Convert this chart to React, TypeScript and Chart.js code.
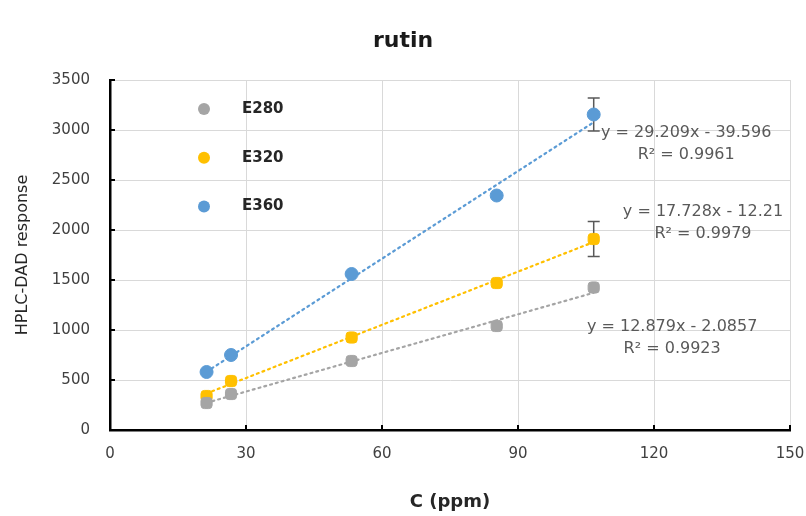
import React, { useEffect, useRef } from "react";
import { Chart, registerables } from "chart.js";

Chart.register(...registerables);

// ---- data ----
const concentrations = [21.3, 26.7, 53.3, 85.3, 106.7];
const seriesLabels = ["E280", "E320", "E360"];
const e280 = [270, 360, 690, 1040, 1425];
const e320 = [340, 490, 925, 1470, 1910];
const e360 = [580, 750, 1560, 2345, 3155];
const e280Err = [0, 0, 0, 0, 0];
const e320Err = [0, 0, 0, 0, 175];
const e360Err = [0, 0, 0, 0, 165];
const trendSlopes = [12.879, 17.728, 29.209];
const trendIntercepts = [-2.0857, -12.21, -39.596];
const equationTexts = ["y = 12.879x - 2.0857", "y = 17.728x - 12.21", "y = 29.209x - 39.596"];
const r2Texts = ["R² = 0.9923", "R² = 0.9979", "R² = 0.9961"];
const xTickValues = [0, 30, 60, 90, 120, 150];
const yTickValues = [0, 500, 1000, 1500, 2000, 2500, 3000, 3500];

// ---- styles ----
const colors = ["#A5A5A5", "#FFC000", "#5B9BD5"];
const pointStyles = ["rectRounded", "rectRounded", "circle"];
const FONT = "'DejaVu Sans', sans-serif";
const TICK_COLOR = "#404040";
// label anchors (data units) for the trendline equations
const eqAnchors = [
  { x: 124, y: 1035 },
  { x: 130.8, y: 2180 },
  { x: 127.1, y: 2970 },
];

const allValues = [e280, e320, e360];
const allErrors = [e280Err, e320Err, e360Err];

const errorBarPlugin = {
  id: "errorBars",
  beforeDatasetsDraw(chart: any) {
    const { ctx, scales } = chart;
    const xs = scales.x;
    const ys = scales.y;
    ctx.save();
    ctx.strokeStyle = "#595959";
    ctx.lineWidth = 1.5;
    allValues.forEach((vals, s) => {
      vals.forEach((v, i) => {
        const e = allErrors[s][i];
        if (!e) return;
        const px = xs.getPixelForValue(concentrations[i]);
        const top = ys.getPixelForValue(v + e);
        const bot = ys.getPixelForValue(v - e);
        ctx.beginPath();
        ctx.moveTo(px, top);
        ctx.lineTo(px, bot);
        ctx.moveTo(px - 6, top);
        ctx.lineTo(px + 6, top);
        ctx.moveTo(px - 6, bot);
        ctx.lineTo(px + 6, bot);
        ctx.stroke();
      });
    });
    ctx.restore();
  },
};

const annotationPlugin = {
  id: "annotations",
  afterDatasetsDraw(chart: any) {
    const { ctx, scales, chartArea } = chart;
    const xs = scales.x;
    const ys = scales.y;
    ctx.save();
    // inner tick marks on the axes
    ctx.strokeStyle = "#000";
    ctx.lineWidth = 2;
    ctx.beginPath();
    xTickValues.forEach((v) => {
      const px = xs.getPixelForValue(v);
      ctx.moveTo(px, chartArea.bottom);
      ctx.lineTo(px, chartArea.bottom - 5);
    });
    yTickValues.forEach((v) => {
      const py = ys.getPixelForValue(v);
      ctx.moveTo(chartArea.left, py);
      ctx.lineTo(chartArea.left + 5, py);
    });
    ctx.stroke();
    // equations
    ctx.font = `16px ${FONT}`;
    ctx.fillStyle = "#595959";
    ctx.textAlign = "center";
    ctx.textBaseline = "middle";
    eqAnchors.forEach((a, s) => {
      const px = xs.getPixelForValue(a.x);
      const py = ys.getPixelForValue(a.y);
      ctx.fillText(equationTexts[s], px, py);
      ctx.fillText(r2Texts[s], px, py + 22);
    });
    // legend inside plot
    const lx = chartArea.left + 94;
    const ly = chartArea.top + 29;
    seriesLabels.forEach((lab, s) => {
      const y = ly + s * 48.7;
      ctx.fillStyle = colors[s];
      ctx.beginPath();
      ctx.arc(lx, y, 6, 0, Math.PI * 2);
      ctx.fill();
      ctx.fillStyle = "#262626";
      ctx.font = `bold 15px ${FONT}`;
      ctx.textAlign = "left";
      ctx.fillText(lab, lx + 38, y);
    });
    ctx.restore();
  },
};

export default function App() {
  const ref = useRef<HTMLCanvasElement | null>(null);
  useEffect(() => {
    if (!ref.current) return;
    const xFirst = concentrations[0];
    const xLast = concentrations[concentrations.length - 1];
    const trendSets = seriesLabels.map((lab, s) => ({
      type: "line" as const,
      label: lab + " trend",
      data: [
        { x: xFirst, y: trendSlopes[s] * xFirst + trendIntercepts[s] },
        { x: xLast, y: trendSlopes[s] * xLast + trendIntercepts[s] },
      ],
      borderColor: colors[s],
      borderWidth: 2.2,
      borderDash: [2, 4],
      borderCapStyle: "round" as const,
      pointRadius: 0,
      fill: false,
      order: 2,
    }));
    const pointSets = seriesLabels.map((lab, s) => ({
      type: "scatter" as const,
      label: lab,
      data: concentrations.map((c, i) => ({ x: c, y: allValues[s][i] })),
      backgroundColor: colors[s],
      borderColor: colors[s],
      pointStyle: pointStyles[s],
      pointRadius: 6.5,
      order: 1,
    }));
    const chart = new Chart(ref.current, {
      type: "scatter",
      data: { datasets: [...trendSets, ...pointSets] as any },
      plugins: [errorBarPlugin, annotationPlugin],
      options: {
        responsive: false,
        animation: false,
        layout: { padding: { left: 0, right: 0, top: 0, bottom: 0 } },
        plugins: {
          legend: { display: false },
          tooltip: { enabled: false },
          title: {
            display: true,
            text: "rutin",
            color: "#1A1A1A",
            font: { size: 22, family: FONT, weight: "bold" },
            padding: { top: 28, bottom: 25.6 },
          },
        },
        scales: {
          x: {
            type: "linear",
            min: 0,
            max: 150,
            afterBuildTicks: (sc: any) => {
              sc.ticks = xTickValues.map((v) => ({ value: v }));
            },
            afterFit: (sc: any) => {
              sc.height = 86;
              sc.paddingRight = 16;
              sc.paddingLeft = 0;
            },
            ticks: {
              color: TICK_COLOR,
              font: { size: 15, family: FONT },
              padding: 15,
              maxRotation: 0,
              callback: (v: any) => String(v),
            },
            grid: { color: "#D9D9D9", lineWidth: 1, drawTicks: false },
            border: { color: "#000000", width: 2.5 },
            title: {
              display: true,
              text: "C (ppm)",
              color: "#262626",
              font: { size: 18, family: FONT, weight: "bold" },
              padding: { top: 0, bottom: 3 },
            },
          },
          y: {
            type: "linear",
            min: 0,
            max: 3500,
            afterBuildTicks: (sc: any) => {
              sc.ticks = yTickValues.map((v) => ({ value: v }));
            },
            afterFit: (sc: any) => {
              sc.width = 110;
            },
            ticks: {
              color: TICK_COLOR,
              font: { size: 15, family: FONT },
              padding: 20,
              callback: (v: any) => String(v),
            },
            grid: { color: "#D9D9D9", lineWidth: 1, drawTicks: false },
            border: { color: "#000000", width: 2.5 },
            title: {
              display: true,
              text: "HPLC-DAD response",
              color: "#262626",
              font: { size: 16, family: FONT },
              padding: { top: 13.4, bottom: 0 },
            },
          },
        },
      } as any,
    });
    return () => chart.destroy();
  }, []);
  return (
    <div style={{ position: "fixed", left: 0, top: 0, width: 806, height: 516, background: "#fff" }}>
      <canvas ref={ref} width={806} height={516} style={{ width: 806, height: 516 }} />
    </div>
  );
}
